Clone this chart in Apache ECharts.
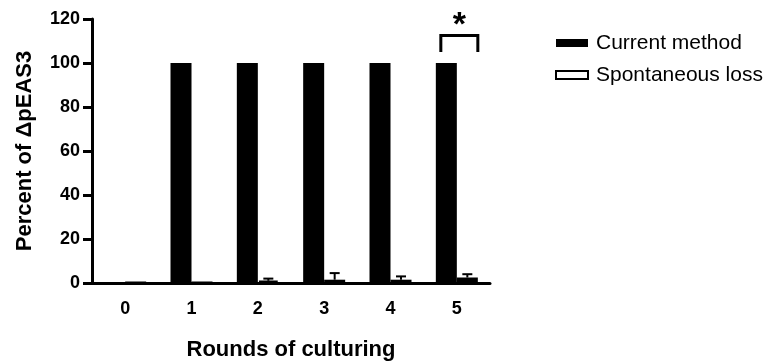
<!DOCTYPE html>
<html><head><meta charset="utf-8">
<script src="https://cdn.jsdelivr.net/npm/echarts@6/dist/echarts.min.js"></script>
<style>html,body{margin:0;padding:0;background:#fff}#c{width:772px;height:362px}</style>
</head><body><div id="c"></div>
<script>
var categories = ['0','1','2','3','4','5'];
var currentMethod = [0, 100, 100, 100, 100, 100];
var spontaneousLoss = [0, 0, 1, 1.5, 1.5, 2.5];
var spontaneousErr = [0, 0, 1, 3, 1.5, 1.5];
var yTicks = [0, 20, 40, 60, 80, 100, 120];
var sigCategory = 5;
var sigBracket = [105, 112.5];
var sigLabel = '*';

var FONT = '"Liberation Sans", Arial, sans-serif';
var chart = echarts.init(document.getElementById('c'), null, {renderer: 'canvas'});
var errData = spontaneousLoss.map(function (v, i) { return [i, v, spontaneousErr[i]]; });
var BAR_W = 21;

chart.setOption({
  animation: false,
  backgroundColor: '#fff',
  grid: {left: 92, right: 282, top: 19, bottom: 79, containLabel: false, outerBoundsMode: 'none'},
  legend: {
    orient: 'vertical', left: 550, top: 27, itemWidth: 32, itemHeight: 8, itemGap: 10,
    icon: 'rect',
    textStyle: {fontFamily: FONT, fontSize: 21, lineHeight: 22, color: '#000', padding: [0, 0, 0, 3]},
    data: ['Current method', 'Spontaneous loss']
  },
  xAxis: {
    type: 'category', data: categories,
    name: 'Rounds of culturing', nameLocation: 'middle', nameGap: 56,
    nameTextStyle: {fontFamily: FONT, fontWeight: 'bold', fontSize: 22, color: '#000'},
    axisLine: {lineStyle: {color: '#000', width: 3}},
    axisTick: {alignWithLabel: true, length: 10, lineStyle: {color: '#000', width: 3}},
    axisLabel: {fontFamily: FONT, fontWeight: 'bold', fontSize: 18, color: '#000', margin: 17}
  },
  yAxis: {
    type: 'value', min: 0, max: 120, interval: 20,
    name: 'Percent of ΔpEAS3', nameLocation: 'middle', nameGap: 56,
    nameTextStyle: {fontFamily: FONT, fontWeight: 'bold', fontSize: 22, color: '#000'},
    axisLine: {show: true, lineStyle: {color: '#000', width: 3}},
    axisTick: {show: true, length: 9, lineStyle: {color: '#000', width: 3}},
    splitLine: {show: false},
    axisLabel: {fontFamily: FONT, fontWeight: 'bold', fontSize: 18, color: '#000', margin: 12,
      formatter: function (v) { return yTicks.indexOf(v) >= 0 ? String(v) : ''; }}
  },
  series: [
    {name: 'Current method', type: 'bar', data: currentMethod, barWidth: BAR_W, barGap: '0%',
      itemStyle: {color: '#000', borderColor: '#000', borderWidth: 0}},
    {name: 'Spontaneous loss', type: 'bar', data: spontaneousLoss, barWidth: BAR_W, barGap: '0%',
      itemStyle: {color: '#fff', borderColor: '#000', borderWidth: 3}},
    {name: 'err', type: 'custom', data: errData, z: 5,
      renderItem: function (params, api) {
        var i = api.value(0), v = api.value(1), e = api.value(2);
        if (!e) return null;
        var base = api.coord([i, v]);
        var top = api.coord([i, v + e]);
        var x = base[0] + BAR_W / 2;
        return {type: 'group', children: [
          {type: 'line', shape: {x1: x, y1: base[1], x2: x, y2: top[1]}, style: {stroke: '#000', lineWidth: 2}},
          {type: 'line', shape: {x1: x - 5, y1: top[1], x2: x + 5, y2: top[1]}, style: {stroke: '#000', lineWidth: 2}}
        ]};
      }
    },
    {name: 'sig', type: 'custom', data: [[sigCategory, sigBracket[0], sigBracket[1]]], z: 5,
      renderItem: function (params, api) {
        var i = api.value(0);
        var lo = api.coord([i, api.value(1)]);
        var hi = api.coord([i, api.value(2)]);
        var x1 = lo[0] - BAR_W + 5, x2 = lo[0] + BAR_W;
        return {type: 'group', children: [
          {type: 'polyline', shape: {points: [[x1, lo[1]], [x1, hi[1]], [x2, hi[1]], [x2, lo[1]]]},
            style: {stroke: '#000', lineWidth: 3, fill: null}},
          {type: 'text', style: {text: sigLabel, x: (x1 + x2) / 2, y: hi[1] + 7, align: 'center', verticalAlign: 'bottom',
            font: 'bold 34px ' + FONT, fill: '#000'}}
        ]};
      }
    }
  ]
});
</script></body></html>
